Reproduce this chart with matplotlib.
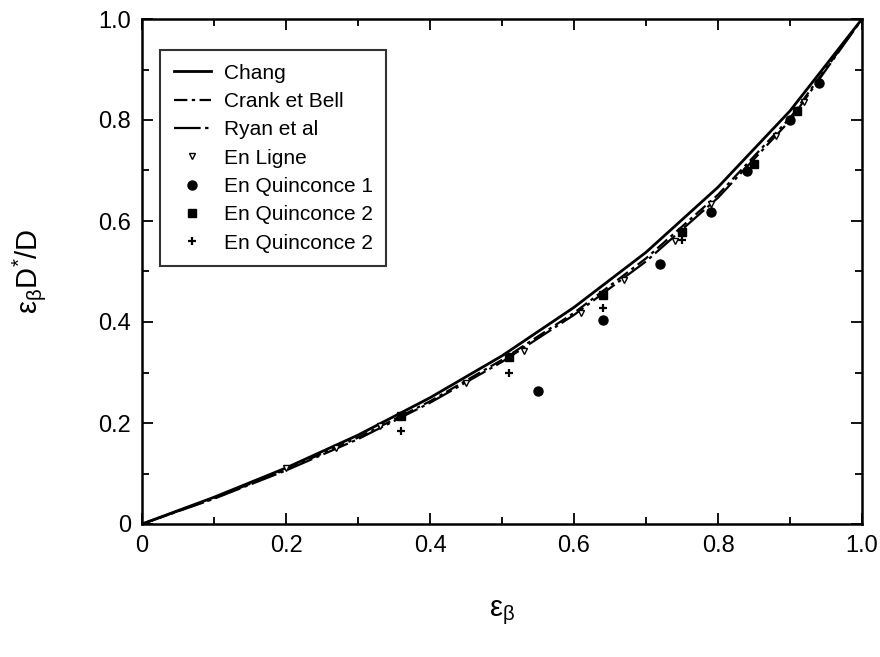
import matplotlib
matplotlib.use("Agg")
import matplotlib.pyplot as plt
from matplotlib.ticker import MultipleLocator, FixedLocator

plt.rcParams['font.family'] = ['Liberation Sans', 'DejaVu Sans']
plt.rcParams['mathtext.fontset'] = 'custom'
plt.rcParams['mathtext.rm'] = 'Liberation Sans'
plt.rcParams['mathtext.it'] = 'Liberation Sans'

# ---- data ----
curve_x = [0.0, 0.1, 0.2, 0.3, 0.4, 0.5, 0.6, 0.7, 0.8, 0.9, 1.0]
chang_y = [0.0, 0.053, 0.111, 0.176, 0.250, 0.333, 0.429, 0.538, 0.667, 0.818, 1.0]
crank_y = [0.0, 0.051, 0.108, 0.171, 0.243, 0.325, 0.418, 0.526, 0.652, 0.804, 1.0]
ryan_y = [0.0, 0.050, 0.106, 0.168, 0.240, 0.321, 0.414, 0.520, 0.646, 0.799, 1.0]

ligne_x = [0.20, 0.27, 0.33, 0.45, 0.53, 0.61, 0.67, 0.74, 0.79, 0.88, 0.92]
ligne_y = [0.110, 0.150, 0.194, 0.279, 0.343, 0.418, 0.483, 0.560, 0.633, 0.768, 0.836]

quin1_x = [0.55, 0.64, 0.72, 0.79, 0.84, 0.90, 0.94]
quin1_y = [0.264, 0.403, 0.514, 0.618, 0.700, 0.800, 0.874]

quin2_x = [0.36, 0.51, 0.64, 0.75, 0.85, 0.91]
quin2_y = [0.214, 0.330, 0.453, 0.579, 0.712, 0.818]

quin2b_x = [0.36, 0.51, 0.64, 0.75]
quin2b_y = [0.185, 0.300, 0.428, 0.562]

x_ticks = [0.0, 0.2, 0.4, 0.6, 0.8, 1.0]
x_tick_labels = ['0', '0.2', '0.4', '0.6', '0.8', '1.0']
y_ticks = [0.0, 0.2, 0.4, 0.6, 0.8, 1.0]
y_tick_labels = ['0', '0.2', '0.4', '0.6', '0.8', '1.0']

# ---- figure ----
fig = plt.figure(figsize=(8.8, 6.57), dpi=100)
ax = fig.add_axes([142/880, 1-524/657, 720/880, 505/657])

ax.plot(curve_x, chang_y, color='black', lw=2.0, ls='-', label='Chang')
ax.plot(curve_x, crank_y, color='black', lw=1.6, ls=(0, (6, 2, 1.5, 2)), label='Crank et Bell')
ax.plot(curve_x, ryan_y, color='black', lw=1.6, ls=(0, (12, 2, 1.5, 2)), label='Ryan et al')
ax.plot(ligne_x, ligne_y, ls='none', marker='v', ms=4.5, mfc='white', mec='black', mew=1.0, label='En Ligne')
ax.plot(quin1_x, quin1_y, ls='none', marker='o', ms=6.5, color='black', label='En Quinconce 1')
ax.plot(quin2_x, quin2_y, ls='none', marker='s', ms=5.5, color='black', label='En Quinconce 2')
ax.plot(quin2b_x, quin2b_y, ls='none', marker='+', ms=6, mew=1.6, color='black', label='En Quinconce 2')

ax.set_xlim(0, 1)
ax.set_ylim(0, 1)
ax.xaxis.set_major_locator(FixedLocator(x_ticks))
ax.yaxis.set_major_locator(FixedLocator(y_ticks))
ax.set_xticklabels(x_tick_labels)
ax.set_yticklabels(y_tick_labels)
ax.xaxis.set_minor_locator(MultipleLocator(0.1))
ax.yaxis.set_minor_locator(MultipleLocator(0.1))
ax.tick_params(which='both', direction='in', top=True, right=True, width=1.3, labelsize=17)
ax.tick_params(which='major', length=8, pad=8)
ax.tick_params(which='minor', length=5)
for s in ax.spines.values():
    s.set_linewidth(1.8)

ax.set_xlabel(r'$\mathregular{\varepsilon_\beta}$', fontsize=21, labelpad=30)
ax.set_ylabel(r'$\mathregular{\varepsilon_\beta D^{*}/D}$', fontsize=21, labelpad=36)

leg = ax.legend(loc='upper left', bbox_to_anchor=(18/720, (524-50)/505), borderaxespad=0,
                fontsize=15, frameon=True, fancybox=False, edgecolor='black',
                handlelength=1.8, handletextpad=0.6, labelspacing=0.45,
                borderpad=0.65, numpoints=1)
leg.get_frame().set_linewidth(1.5)

fig.savefig('out.png', dpi=100)
